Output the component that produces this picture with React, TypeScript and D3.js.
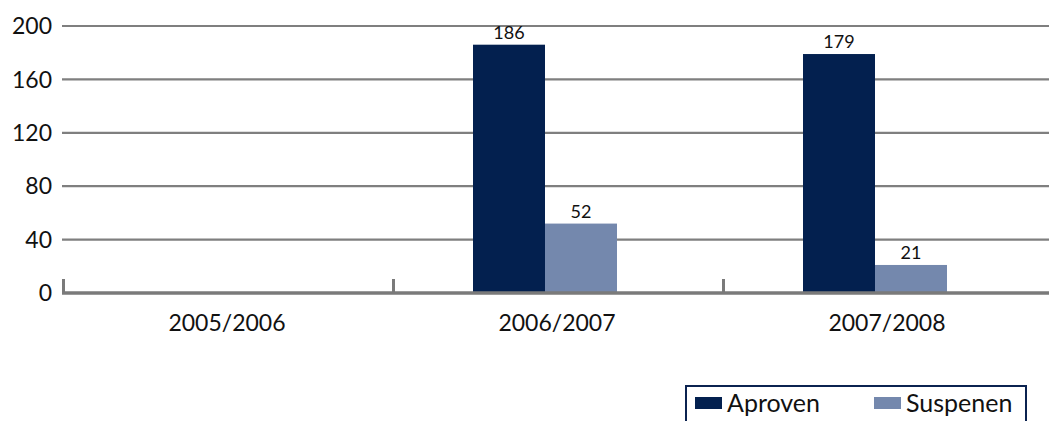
import React from "react";
import * as d3 from "d3";

const categories = ["2005/2006", "2006/2007", "2007/2008"];
const seriesNames = ["Aproven", "Suspenen"];
const aproven: (number | null)[] = [null, 186, 179];
const suspenen: (number | null)[] = [null, 52, 21];
const yTicks = [0, 40, 80, 120, 160, 200];
const colors = ["#03204f", "#7488ad"];

const W = 1049, H = 421;
const FONT = "Lato, 'Open Sans', sans-serif";

export default function App() {
  const x = d3.scaleBand<string>().domain(categories).range([62, 1052]).padding(0);
  const inner = d3.scaleBand<string>().domain(seriesNames).range([81, 225]).padding(0);
  const y = d3.scaleLinear().domain([0, 200]).range([293, 26]);
  const series = [aproven, suspenen];

  return (
    <svg width={W} height={H} style={{ position: "absolute", left: 0, top: 0, background: "#fff" }}>
      {yTicks.filter(t => t > 0).map(t => (
        <line key={t} x1={62} x2={W} y1={y(t)} y2={y(t)} stroke="#7f7f7f" strokeWidth={2.2} />
      ))}
      {yTicks.map(t => (
        <text key={"l" + t} x={52} y={y(t)} dy="0.36em" textAnchor="end" fontFamily={FONT} fontSize={23} fill="#111">{t}</text>
      ))}
      {categories.map((c, i) => (
        <g key={c}>
          {series.map((s, si) => {
            const v = s[i];
            if (v == null) return null;
            const bx = (x(c) as number) + (inner(seriesNames[si]) as number);
            return (
              <g key={si}>
                <rect x={bx} y={y(v)} width={inner.bandwidth()} height={y(0) - y(v)} fill={colors[si]} />
                <text x={bx + inner.bandwidth() / 2} y={y(v) - 6} textAnchor="middle" fontFamily={FONT} fontSize={18} fill="#111">{v}</text>
              </g>
            );
          })}
        </g>
      ))}
      <line x1={62} x2={W} y1={y(0)} y2={y(0)} stroke="#7a7a7a" strokeWidth={3.5} />
      {categories.map(c => (
        <line key={"t" + c} x1={(x(c) as number) + 1.5} x2={(x(c) as number) + 1.5} y1={y(0)} y2={y(0) - 14} stroke="#7a7a7a" strokeWidth={3} />
      ))}
      {categories.map(c => (
        <text key={"x" + c} x={(x(c) as number) + x.bandwidth() / 2} y={323} dy="0.36em" textAnchor="middle" fontFamily={FONT} fontSize={23} fill="#111">{c}</text>
      ))}
      <rect x={686} y={386} width={340} height={50} fill="none" stroke="#0b2350" strokeWidth={2} />
      {seriesNames.map((n, i) => {
        const lx = 695 + i * 179;
        return (
          <g key={n}>
            <rect x={lx} y={397} width={27} height={12} fill={colors[i]} />
            <text x={lx + 32} y={403} dy="0.36em" fontFamily={FONT} fontSize={25} fill="#111">{n}</text>
          </g>
        );
      })}
    </svg>
  );
}
